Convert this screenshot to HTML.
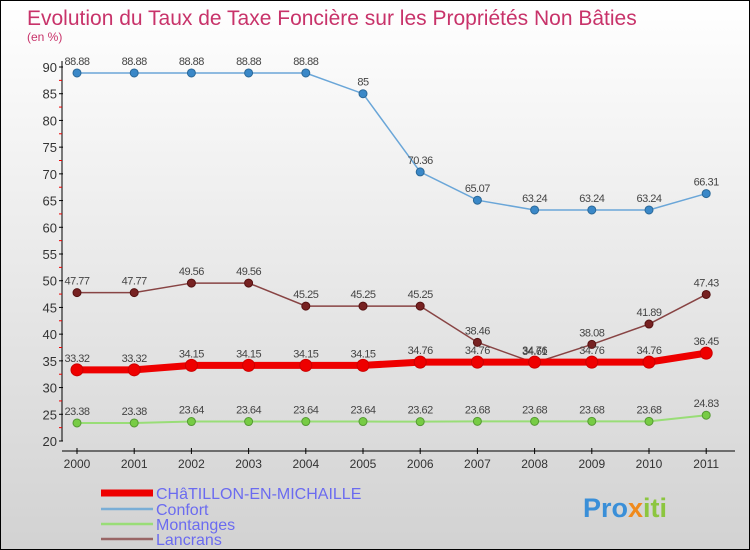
<!DOCTYPE html>
<html><head><meta charset="utf-8"><style>
body{margin:0}
#c{width:750px;height:550px;position:relative;overflow:hidden;box-sizing:border-box;border:1px solid #000;background:linear-gradient(#ffffff,#d2d2d2);font-family:"Liberation Sans",sans-serif}
svg text{font-family:"Liberation Sans",sans-serif}
</style></head><body>
<div id="c">
<svg id="s" width="750" height="550">
<text x="26" y="24" font-size="21" fill="#c8336a">Evolution du Taux de Taxe Foncière sur les Propriétés Non Bâties</text>
<text x="26" y="40" font-size="12" fill="#c8336a">(en %)</text>
<g id="axes"></g><g id="series"></g>
<g>
<line x1="100" y1="492" x2="152" y2="492" stroke="#ee0000" stroke-width="7"/>
<text x="155" y="498" font-size="16" fill="#6b6bf0">CHâTILLON-EN-MICHAILLE</text>
<line x1="100" y1="508" x2="152" y2="508" stroke="#7aaed6" stroke-width="2.5"/>
<text x="155" y="514" font-size="16" fill="#6b6bf0">Confort</text>
<line x1="100" y1="523" x2="152" y2="523" stroke="#99dd77" stroke-width="2.5"/>
<text x="155" y="529" font-size="16" fill="#6b6bf0">Montanges</text>
<line x1="100" y1="538" x2="152" y2="538" stroke="#996666" stroke-width="2.5"/>
<text x="155" y="544" font-size="16" fill="#6b6bf0">Lancrans</text>
</g>
<g><text x="582" y="516" font-size="27" font-weight="bold" fill="#3a8fd8">Pro<tspan fill="#f08a1c">x</tspan><tspan fill="#8cc63f">iti</tspan></text></g>
</svg></div>
<script>
const years=[2000,2001,2002,2003,2004,2005,2006,2007,2008,2009,2010,2011];
const yTicks=[20,25,30,35,40,45,50,55,60,65,70,75,80,85,90];
const chatillon=[33.32,33.32,34.15,34.15,34.15,34.15,34.76,34.76,34.76,34.76,34.76,36.45];
const confort=[88.88,88.88,88.88,88.88,88.88,85,70.36,65.07,63.24,63.24,63.24,66.31];
const montanges=[23.38,23.38,23.64,23.64,23.64,23.64,23.62,23.68,23.68,23.68,23.68,24.83];
const lancrans=[47.77,47.77,49.56,49.56,45.25,45.25,45.25,38.46,34.61,38.08,41.89,47.43];
const NS="http://www.w3.org/2000/svg";
const xs=i=>76+i*57.2;
const ys=v=>440-(v-20)*374/70;
function mk(t,a,p){const e=document.createElementNS(NS,t);for(const k in a)e.setAttribute(k,a[k]);p.appendChild(e);return e;}
const ax=document.getElementById('axes');
let l=mk('line',{x1:61,y1:60,x2:61,y2:440,stroke:'#000'},ax);


l=mk('line',{x1:61,y1:450,x2:734,y2:450,stroke:'#000'},ax);


yTicks.forEach((v,i)=>{
 const y=ys(v);
 let t=mk('line',{x1:58,y1:y,x2:62,y2:y,stroke:'#000'},ax);
 
 
 if(i<yTicks.length-1){let m=mk('line',{x1:58,y1:ys(v+2.5),x2:61,y2:ys(v+2.5),stroke:'#e00'},ax);
 
 }
 let tx=mk('text',{x:56,y:y+5,'font-size':13,fill:'#333','text-anchor':'end'},ax);tx.textContent=v;
 
 
});
years.forEach((yr,i)=>{
 const x=xs(i);
 let t=mk('line',{x1:x,y1:447,x2:x,y2:453,stroke:'#000'},ax);
 
 
 let tx=mk('text',{x:x,y:467,'font-size':12,fill:'#333','text-anchor':'middle'},ax);tx.textContent=yr;
 
 
});
const sg=document.getElementById('series');
function series(name,vals,col,w,r,dot,dotStroke){
 const g=mk('g',{},sg);
 
 
 const p=mk('polyline',{points:vals.map((v,i)=>xs(i)+','+ys(v)).join(' '),fill:'none',stroke:col,'stroke-width':w},g);
 
 
 vals.forEach((v,i)=>{
  const c=mk('circle',{cx:xs(i),cy:ys(v),r:r,fill:dot,stroke:dotStroke,'stroke-width':1},g);
  
  
  const t=mk('text',{x:xs(i),y:ys(v)-8,'font-size':11,fill:'#444','text-anchor':'middle','letter-spacing':'-0.5'},g);
  t.textContent=v;
  
  
 });
}
series('montanges',montanges,'#99dd77',2,4,'#77cc44','#559933');
series('confort',confort,'#6aa6d8',1.5,4,'#3a88c8','#2a6898');
series('lancrans',lancrans,'#884444',1.5,4,'#772222','#551111');
series('chatillon',chatillon,'#ee0000',7,6,'#ee0000','#cc0000');
</script>
</body></html>
